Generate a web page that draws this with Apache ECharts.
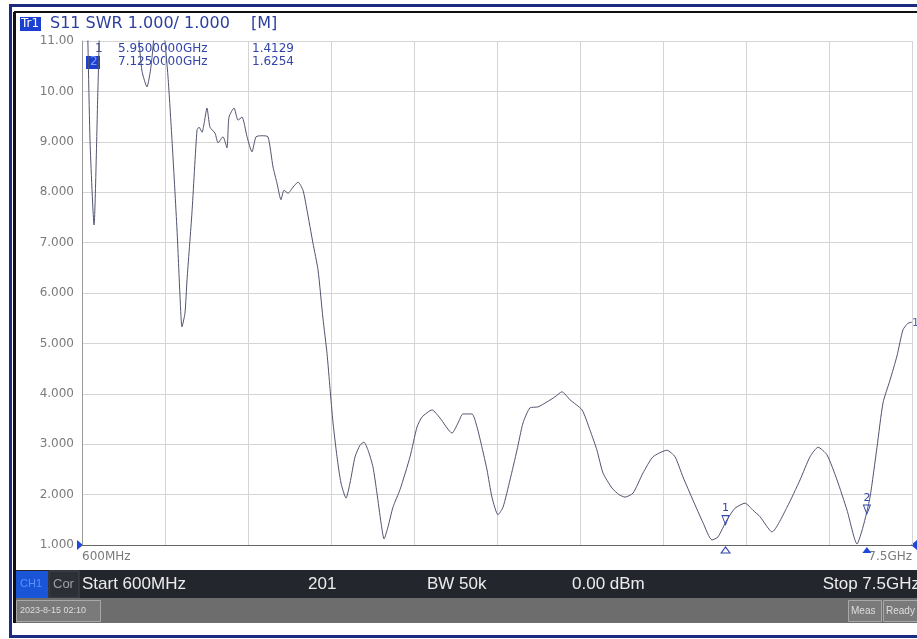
<!DOCTYPE html>
<html>
<head>
<meta charset="utf-8">
<script src="https://cdn.jsdelivr.net/npm/echarts@6/dist/echarts.min.js"></script>
<style>
html,body{margin:0;padding:0;background:#fff;}
#c{width:917px;height:639px;}
</style>
</head>
<body>
<div id="c"></div>
<script>
// Trace: frequency (GHz) and SWR readings
const freqGHz = [0.600,0.633,0.667,0.700,0.733,0.766,0.833,0.916,0.999,1.066,1.099,1.140,1.174,1.207,1.248,1.282,1.315,1.348,1.390,1.415,1.431,1.456,1.473,1.514,1.556,1.573,1.598,1.614,1.639,1.664,1.706,1.731,1.772,1.805,1.822,1.864,1.897,1.930,1.972,2.013,2.047,2.096,2.146,2.188,2.221,2.254,2.279,2.313,2.354,2.396,2.437,2.470,2.520,2.562,2.603,2.637,2.662,2.687,2.720,2.753,2.795,2.828,2.870,2.911,2.944,2.978,3.019,3.052,3.086,3.111,3.144,3.185,3.244,3.327,3.385,3.427,3.510,3.576,3.676,3.726,3.767,3.842,3.884,3.925,3.967,4.008,4.058,4.100,4.158,4.216,4.266,4.324,4.391,4.466,4.532,4.590,4.657,4.757,4.823,4.881,4.931,5.006,5.064,5.114,5.181,5.264,5.347,5.463,5.530,5.596,5.679,5.763,5.837,5.887,5.962,6.029,6.112,6.178,6.237,6.336,6.461,6.569,6.652,6.719,6.793,6.877,6.960,7.043,7.093,7.151,7.209,7.259,7.317,7.375,7.425,7.467,7.500];
const swr = [13.0,12.5,9.0,7.35,10.1,12.5,13.0,13.5,12.5,11.2,10.4,10.09,10.5,11.3,12.0,11.2,10.29,9.04,7.25,5.92,5.33,5.6,6.26,7.59,9.23,9.29,9.19,9.35,9.67,9.29,9.17,8.98,9.10,8.88,9.49,9.67,9.43,9.49,9.10,8.80,9.10,9.12,9.10,8.50,8.18,7.85,8.04,7.98,8.10,8.20,8.04,7.65,6.99,6.46,5.50,4.80,4.10,3.42,2.75,2.23,1.93,2.23,2.75,2.98,3.04,2.88,2.55,2.03,1.44,1.12,1.36,1.75,2.10,2.75,3.34,3.54,3.68,3.52,3.22,3.42,3.60,3.60,3.34,2.94,2.49,1.95,1.60,1.75,2.29,2.88,3.42,3.72,3.74,3.84,3.94,4.04,3.88,3.68,3.28,2.88,2.43,2.13,2.00,1.95,2.03,2.43,2.75,2.88,2.75,2.35,1.89,1.44,1.10,1.16,1.50,1.73,1.83,1.69,1.56,1.26,1.75,2.29,2.75,2.94,2.79,2.29,1.69,1.02,1.36,1.95,2.94,3.82,4.27,4.75,5.27,5.40,5.42];

// Markers
const markerNames = ['1','2'];
const markerFreq = [5.95, 7.125];
const markerVal = [1.4129, 1.6254];
const markerFreqText = ['5.9500000GHz','7.1250000GHz'];
const markerValText = ['1.4129','1.6254'];

// Tick labels
const yTickLabels = ['1.000','2.000','3.000','4.000','5.000','6.000','7.000','8.000','9.000','10.00','11.00'];
const xStartLabel = '600MHz';
const xStopLabel = '7.5GHz';

const NAVY = '#1c2a82';
const MBLUE = '#3344aa';

const chart = echarts.init(document.getElementById('c'), null, {renderer:'canvas'});

const traceData = freqGHz.map((f,i)=>[f, swr[i]]);
const mpData = [];
markerFreq.forEach((f,i)=>{
  mpData.push({
    coord:[f, markerVal[i]],
    symbol:'path://M0,0 L10,0 L5,10 Z',
    symbolSize:[7,9],
    symbolOffset:[0,-4],
    itemStyle:{color:'rgba(0,0,0,0)', borderColor:MBLUE, borderWidth:1},
    label:{show:true, formatter:markerNames[i], position:'top', distance:1, color:MBLUE, fontSize:11, fontFamily:'DejaVu Sans'}
  });
  mpData.push({
    coord:[f, 1],
    symbol:'path://M5,0 L10,10 L0,10 Z',
    symbolSize:[9,6],
    symbolOffset:[0,5],
    itemStyle: i===1 ? {color:'#1f48d8'} : {color:'rgba(0,0,0,0)', borderColor:MBLUE, borderWidth:1},
    label:{show:false}
  });
});

const txt = (x,y,t,o)=>({type:'text', x:x, y:y, silent:true, style:Object.assign({text:t, fill:'#fff', fontSize:12, fontFamily:'DejaVu Sans', textVerticalAlign:'middle'}, o||{})});
const rect = (x,y,w,h,fill,stroke)=>({type:'rect', silent:true, shape:{x:x,y:y,width:w,height:h}, style:{fill:fill, stroke:stroke||null, lineWidth:1}});

const graphics = [
  // outer frame
  {type:'rect', silent:true, z:-1, shape:{x:10.5,y:5.5,width:930,height:631}, style:{fill:null, stroke:NAVY, lineWidth:3}},
  {type:'line', silent:true, shape:{x1:14.5,y1:12,x2:14.5,y2:623}, style:{stroke:'#111', lineWidth:3}},
  {type:'line', silent:true, shape:{x1:14,y1:12,x2:917,y2:12}, style:{stroke:'#111', lineWidth:2}},
  // header
  rect(20,17,21,14,'#1b3fd0'),
  txt(21,24,'Tr1',{fill:'#ffffff', fontSize:12}),
  txt(50,24,'S11 SWR 1.000/ 1.000',{fill:'#2c3ea0', fontSize:16}),
  txt(251,24,'[M]',{fill:'#2c3ea0', fontSize:16}),
  // marker table
  txt(95,49,markerNames[0],{fill:MBLUE, fontSize:12}),
  rect(86,56,14,13,'#1b3fd0'),
  txt(90,62,markerNames[1],{fill:'#7fa0ff', fontSize:12}),
  txt(118,49,markerFreqText[0],{fill:MBLUE, fontSize:12}),
  txt(118,62,markerFreqText[1],{fill:MBLUE, fontSize:12}),
  txt(252,49,markerValText[0],{fill:MBLUE, fontSize:12}),
  txt(252,62,markerValText[1],{fill:MBLUE, fontSize:12}),
  // reference indicators
  {type:'polygon', silent:true, shape:{points:[[77,540],[83,545],[77,550]]}, style:{fill:'#1f48d8'}},
  {type:'polygon', silent:true, shape:{points:[[911,545],[917,540],[917,550]]}, style:{fill:'#1f48d8'}},
  txt(912,323,'1',{fill:'#5560b0', fontSize:11}),
  // status bar
  rect(16,570,901,28,'#23262d'),
  rect(16,571,32,27,'#1a55d8'),
  txt(20,584,'CH1',{fill:'#5b8fff', fontSize:11, fontFamily:'Liberation Sans'}),
  rect(49,571,30,27,'#2c2f36','#45484f'),
  txt(53,584,'Cor',{fill:'#a0a0a0', fontSize:13, fontFamily:'Liberation Sans'}),
  txt(82,584,'Start 600MHz',{fill:'#ececec', fontSize:17, fontFamily:'Liberation Sans'}),
  txt(308,584,'201',{fill:'#ececec', fontSize:17, fontFamily:'Liberation Sans'}),
  txt(427,584,'BW 50k',{fill:'#ececec', fontSize:17, fontFamily:'Liberation Sans'}),
  txt(572,584,'0.00 dBm',{fill:'#ececec', fontSize:17, fontFamily:'Liberation Sans'}),
  txt(920,584,'Stop 7.5GHz',{fill:'#ececec', fontSize:17, fontFamily:'Liberation Sans', textAlign:'right'}),
  // lower gray bar
  rect(16,598,901,25,'#6d6d6d'),
  rect(16.5,600.5,84,21,'#7a7a7a','#a8a8a8'),
  txt(20,611,'2023-8-15 02:10',{fill:'#dedede', fontSize:9, fontFamily:'Liberation Sans'}),
  rect(848.5,600.5,33,21,'#7a7a7a','#a8a8a8'),
  txt(851,611,'Meas',{fill:'#dedede', fontSize:10, fontFamily:'Liberation Sans'}),
  rect(883.5,600.5,34,21,'#7a7a7a','#a8a8a8'),
  txt(886,611,'Ready',{fill:'#dedede', fontSize:10, fontFamily:'Liberation Sans'})
];

const option = {
  animation:false,
  backgroundColor:'#ffffff',
  grid:{left:82, top:41, width:830, height:504, containLabel:false},
  xAxis:[
    {
      type:'value', min:0.6, max:7.5,
      axisLine:{show:true, lineStyle:{color:'#666', width:1}},
      axisTick:{show:false},
      splitLine:{show:false},
      axisLabel:{
        show:true, color:'#7a7a7a', fontSize:12, fontFamily:'DejaVu Sans', margin:6,
        showMinLabel:true, showMaxLabel:true, hideOverlap:false,
        alignMinLabel:'left', alignMaxLabel:'right',
        formatter:function(v){
          if(Math.abs(v-0.6)<1e-6) return xStartLabel;
          if(Math.abs(v-7.5)<1e-6) return xStopLabel;
          return '';
        }
      }
    },
    {
      type:'value', min:0, max:10, interval:1, position:'top', gridIndex:0,
      axisLine:{show:false}, axisTick:{show:false}, axisLabel:{show:false},
      splitLine:{show:true, lineStyle:{color:'#d4d4d4', width:1}}
    }
  ],
  yAxis:{
    type:'value', min:1, max:11, interval:1,
    axisLine:{show:true, lineStyle:{color:'#999', width:1}},
    axisTick:{show:false},
    splitLine:{show:true, lineStyle:{color:'#d4d4d4', width:1}},
    axisLabel:{
      color:'#7a7a7a', fontSize:12, fontFamily:'DejaVu Sans', margin:8,
      formatter:function(v){ return yTickLabels[Math.round(v)-1]; }
    }
  },
  series:[{
    type:'line', xAxisIndex:0, data:traceData, symbol:'none', clip:true,
    smooth:0.2,
    lineStyle:{color:'#50546e', width:1},
    markPoint:{silent:true, data:mpData}
  }],
  graphic:graphics
};
chart.setOption(option);
</script>
</body>
</html>
